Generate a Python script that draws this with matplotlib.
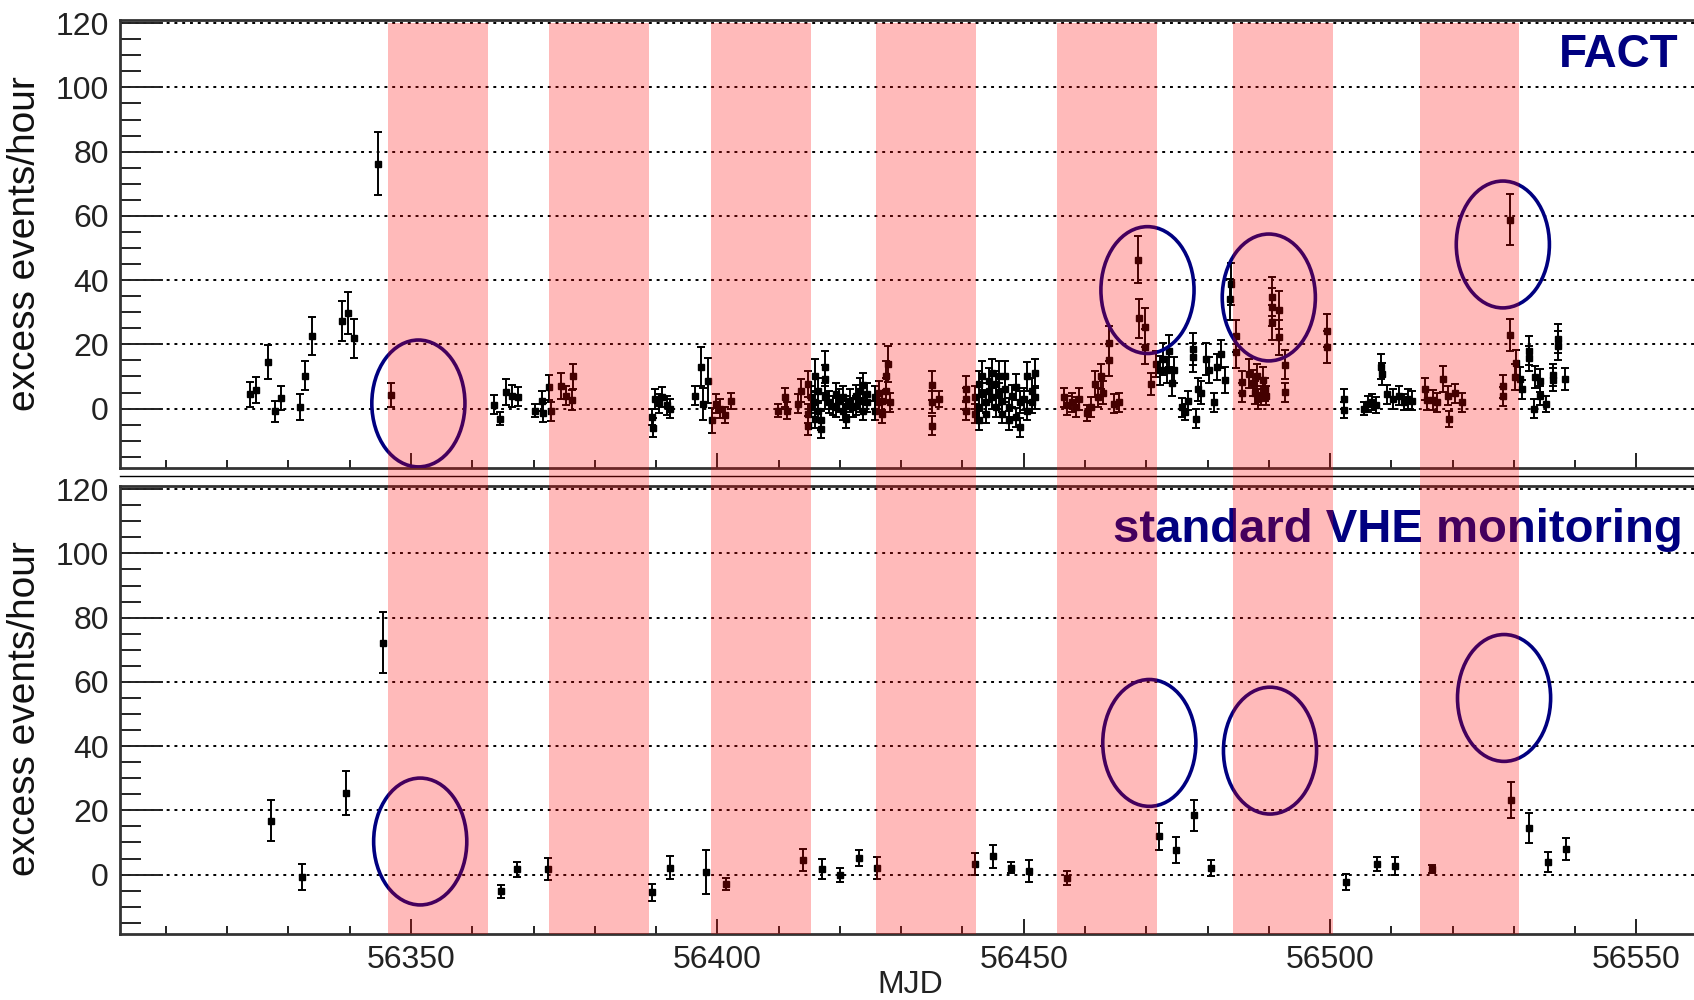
import matplotlib
matplotlib.use('Agg')
import matplotlib.pyplot as plt
import matplotlib.transforms as mtransforms
from matplotlib.patches import Ellipse, Rectangle
from matplotlib.lines import Line2D
from matplotlib.ticker import MultipleLocator, FormatStrFormatter

# FACT light curve (top panel)
fact_mjd = [
    56323.7, 56324.7, 56326.7, 56327.8, 56328.8, 56331.8, 56332.7, 56333.8, 56338.8, 56339.7, 56340.7, 56344.6, 56346.7,
    56363.5, 56364.6, 56365.5, 56366.5, 56367.5, 56370.3, 56371.3, 56371.5, 56372.6, 56372.8, 56374.4, 56375.3, 56376.5, 56376.2,
    56389.4, 56389.5, 56389.8, 56390.5, 56391.0, 56391.7, 56392.3, 56396.3, 56397.4, 56397.6, 56398.4, 56399.1, 56399.7, 56400.5, 56401.3, 56402.3,
    56409.9, 56411.1, 56411.3, 56413.1, 56413.7,
    56414.8, 56414.8, 56414.8, 56415.3, 56415.3, 56416.0, 56416.0, 56416.0, 56416.5, 56416.5, 56416.9, 56416.9,
    56417.6, 56417.6, 56417.6, 56418.3, 56418.8, 56419.4, 56419.4, 56419.9, 56420.5, 56420.5, 56421.0, 56421.0,
    56421.6, 56422.1, 56422.6, 56422.6, 56423.2, 56423.2, 56423.8, 56423.8, 56424.5, 56424.5,
    56425.7, 56425.7, 56426.4, 56426.4, 56426.9, 56426.9, 56427.5, 56427.5, 56427.8, 56428.1, 56435.0, 56435.0, 56435.0,
    56436.2, 56440.6, 56440.6, 56440.6,
    56442.1, 56442.1, 56442.7, 56442.7, 56442.7, 56443.2, 56443.2, 56443.8, 56443.8, 56444.3, 56444.3, 56444.8,
    56444.8, 56445.4, 56445.4, 56445.9, 56445.9, 56446.5, 56446.5, 56447.0, 56447.0, 56447.6, 56447.6, 56448.1,
    56448.8, 56448.8, 56449.4, 56449.4, 56450.1, 56450.6, 56450.6, 56451.3, 56451.3, 56451.8, 56451.8,
    56456.5, 56457.0, 56457.8, 56458.5, 56459.0, 56460.3, 56461.0, 56461.7, 56462.2, 56462.6, 56463.0, 56463.9, 56464.0, 56464.8, 56465.5,
    56468.7, 56468.8, 56469.8, 56469.8, 56470.7,
    56471.6, 56472.2, 56472.8, 56473.4, 56473.7, 56474.2, 56474.6, 56475.9, 56476.4, 56476.8, 56477.7, 56477.7, 56478.1, 56478.5,
    56479.0, 56479.7, 56480.3, 56481.0, 56481.5, 56482.2, 56482.8,
    56483.8, 56483.7, 56484.6, 56484.6, 56485.7, 56485.7, 56486.8, 56487.4, 56487.8, 56488.1, 56488.3, 56488.8,
    56489.0, 56489.3, 56489.6, 56490.6, 56490.6, 56490.6, 56491.6, 56491.6, 56492.6, 56492.6, 56499.5, 56499.5,
    56502.3, 56502.3, 56505.5, 56506.2, 56506.8, 56507.5, 56508.3, 56508.5, 56509.3, 56510.2, 56511.2, 56512.0, 56512.8, 56513.3,
    56515.5, 56515.8, 56516.8, 56517.4, 56518.4, 56519.3, 56519.4, 56520.4, 56521.5,
    56528.3, 56528.3, 56529.4, 56529.3, 56530.2, 56530.3, 56531.0, 56531.4, 56532.4, 56532.4, 56533.3, 56533.4,
    56534.3, 56534.3, 56535.3, 56536.4, 56536.4, 56537.2, 56537.2, 56538.3,
]
fact_rate = [
    4.4, 5.8, 14.4, -0.9, 3.2, 0.4, 10.3, 22.7, 27.4, 29.8, 21.9, 76.2, 4.3,
    1.2, -3.2, 5.1, 4.0, 3.7, -0.6, 2.4, -1.3, 6.6, -0.8, 7.0, 4.0, 10.0, 2.7,
    -2.7, -6.0, 3.0, 1.6, 3.6, 1.0, 0.0, 4.0, 13.1, 1.4, 8.7, -3.7, 1.5, 0.0, -2.0, 2.5,
    -0.6, 3.5, -0.6, 1.5, 5.6,
    7.7, -1.6, -5.3, 3.5, 0.4, 10.3, 2.0, -3.2, 5.6, -0.6, -3.7, -6.3,
    12.9, 9.2, 3.5, 2.0, 0.9, 4.6, 0.4, 2.5, 3.5, -0.6, 0.9, -3.2,
    2.5, 0.4, 4.0, 0.9, 5.6, 2.5, 7.2, -0.6, 4.6, 2.0,
    3.5, -0.6, 2.0, 5.0, -1.6, 2.5, 5.6, 10.3, 13.9, 2.0, 7.2, 2.0, -5.3,
    3.0, 6.1, 3.0, -0.6,
    3.5, -1.6, 7.7, 0.4, -3.7, 10.3, 4.6, 2.0, -1.6, 8.7, 5.6, 11.0,
    3.5, 7.7, 0.4, 10.3, 4.6, 2.5, -1.6, 10.3, 6.1, 0.4, -3.7, 4.0,
    6.7, -2.7, 2.0, -5.8, 3.0, 10.0, -0.6, 5.6, 2.0, 11.0, 3.5,
    3.5, 1.0, 2.0, 0.5, 3.0, -1.5, 0.5, 7.7, 3.5, 10.0, 5.0, 15.0, 20.3, 1.5, 2.0,
    46.4, 28.1, 25.3, 19.3, 7.7,
    13.9, 12.0, 15.5, 12.0, 18.0, 8.0, 12.0, 0.4, -1.0, 2.5, 18.6, 16.0, -3.2, 6.0,
    5.0, 15.5, 12.0, 2.0, 13.0, 17.0, 9.0,
    38.8, 34.0, 22.7, 17.5, 8.2, 5.0, 10.8, 8.0, 5.0, 10.0, 3.0, 4.0,
    9.0, 6.0, 4.0, 34.9, 31.6, 26.9, 30.7, 22.2, 13.6, 5.1, 24.3, 19.3,
    3.0, -0.5, -0.1, 1.5, 2.0, 1.0, 13.1, 10.8, 4.5, 3.0, 4.0, 2.0, 3.0, 2.5,
    6.1, 2.7, 2.7, 2.0, 9.2, 4.0, -3.2, 4.7, 2.0,
    6.9, 3.8, 58.8, 23.0, 9.8, 14.1, 9.3, 6.0, 18.0, 15.6, 0.0, 9.8,
    8.7, 4.0, 1.4, 10.5, 9.0, 19.6, 21.7, 9.2,
]
fact_err = [
    3.9, 4.0, 5.3, 3.4, 3.7, 4.0, 4.4, 5.9, 6.2, 6.5, 6.0, 9.8, 3.8,
    2.9, 2.0, 4.0, 3.5, 3.0, 2.0, 3.0, 3.0, 4.0, 3.0, 4.0, 3.0, 4.0, 3.0,
    2.5, 3.0, 3.0, 3.0, 3.0, 3.0, 3.0, 3.0, 6.0, 5.0, 7.0, 4.0, 3.0, 3.0, 2.5, 2.5,
    2.0, 3.0, 2.5, 3.0, 3.5,
    4.0, 3.0, 3.0, 3.5, 3.0, 5.0, 3.5, 3.0, 4.0, 3.0, 3.0, 3.0,
    5.0, 4.5, 3.5, 3.5, 3.0, 3.5, 3.0, 3.5, 3.5, 3.0, 3.0, 3.0,
    3.5, 3.0, 3.5, 3.0, 4.0, 3.5, 4.0, 3.0, 3.5, 3.0,
    3.5, 3.0, 3.0, 3.5, 3.0, 3.0, 4.0, 4.5, 5.5, 3.0, 4.5, 3.5, 3.0,
    2.5, 4.0, 3.5, 3.0,
    3.5, 3.0, 4.0, 3.5, 3.0, 4.5, 3.5, 3.5, 3.0, 4.0, 3.5, 4.5,
    3.5, 4.0, 3.0, 4.5, 3.5, 3.5, 3.0, 4.5, 4.0, 3.0, 3.0, 3.5,
    4.0, 3.0, 3.5, 3.0, 3.5, 4.5, 3.0, 4.0, 3.5, 4.5, 3.5,
    3.0, 3.0, 3.0, 3.0, 3.5, 2.5, 3.0, 4.0, 3.0, 4.0, 3.5, 5.0, 5.5, 3.0, 3.0,
    7.4, 6.0, 6.0, 5.5, 3.5,
    4.0, 4.5, 5.0, 4.0, 5.0, 4.0, 4.0, 3.0, 2.5, 3.0, 5.0, 4.5, 3.0, 3.5,
    3.5, 5.0, 4.0, 3.0, 4.0, 4.5, 4.0,
    6.5, 6.5, 5.0, 5.0, 3.5, 3.0, 4.5, 4.0, 3.5, 4.0, 3.0, 3.0,
    4.0, 3.5, 3.0, 6.0, 6.0, 5.5, 6.0, 5.5, 4.5, 3.0, 5.0, 5.0,
    3.0, 2.5, 2.0, 2.5, 2.5, 2.5, 4.0, 3.5, 3.0, 3.0, 3.0, 2.5, 3.0, 3.0,
    3.5, 3.0, 3.0, 3.0, 4.0, 3.0, 2.5, 3.0, 3.0,
    3.5, 3.0, 8.0, 5.0, 4.0, 4.0, 3.5, 3.0, 4.5, 4.0, 3.0, 3.5,
    3.5, 3.0, 2.5, 3.5, 3.5, 4.5, 4.5, 3.5,
]

# standard VHE monitoring (bottom panel)
vhe_mjd = [56327.2, 56332.2, 56339.4, 56345.4, 56364.7, 56367.3, 56372.3, 56389.4, 56392.3, 56398.2,
           56401.4, 56414.0, 56417.1, 56420.0, 56423.1, 56426.1, 56442.0, 56445.0, 56447.9, 56450.9,
           56457.0, 56472.0, 56474.9, 56477.8, 56480.6, 56502.6, 56507.6, 56510.6, 56516.7, 56529.6,
           56532.5, 56535.5, 56538.5]
vhe_rate = [16.8, -0.7, 25.4, 72.2, -5.2, 1.6, 1.8, -5.5, 2.1, 0.8,
            -2.9, 4.5, 1.8, -0.2, 5.2, 2.1, 3.3, 5.7, 2.1, 1.2,
            -1.0, 11.9, 7.7, 18.4, 2.1, -2.4, 3.3, 2.6, 1.8, 23.1,
            14.5, 3.9, 8.0]
vhe_err = [6.3, 4.1, 6.8, 9.5, 2.0, 2.4, 3.4, 2.6, 3.6, 6.9,
           1.9, 3.5, 3.1, 2.2, 2.6, 3.4, 3.5, 3.5, 1.7, 3.4,
           2.2, 4.1, 4.1, 4.7, 2.5, 2.5, 2.3, 2.8, 1.3, 5.6,
           4.6, 3.0, 3.5]

# moon periods (shaded)
moon_start = [56346.3, 56372.6, 56399.0, 56425.9, 56455.5, 56484.2, 56514.7]
moon_end = [56362.5, 56388.9, 56415.2, 56442.2, 56471.7, 56500.4, 56530.9]

# circled epochs
circ_mjd_top = [56351.2, 56470.2, 56490.0, 56528.2]
circ_rate_top = [1.6, 36.9, 34.6, 51.1]
circ_mjd_bot = [56351.5, 56470.5, 56490.2, 56528.4]
circ_rate_bot = [10.3, 41.0, 38.6, 55.0]

plt.rcParams['font.family'] = ['Liberation Sans', 'DejaVu Sans']
navy = '#000080'

fig = plt.figure(figsize=(16.94, 10), dpi=100)
left = 120 / 1694
ax_top = fig.add_axes([left, 1 - 468 / 1000, 1 - left, 0.448])
ax_bot = fig.add_axes([left, 1 - 934 / 1000, 1 - left, 0.448], sharex=ax_top)


def style(ax):
    ax.set_xlim(56302.5, 56559.4)
    ax.set_ylim(-18.5, 121)
    ax.yaxis.set_major_locator(MultipleLocator(20))
    ax.yaxis.set_minor_locator(MultipleLocator(5))
    ax.xaxis.set_major_locator(MultipleLocator(50))
    ax.xaxis.set_minor_locator(MultipleLocator(10))
    ax.xaxis.set_major_formatter(FormatStrFormatter('%d'))
    ax.tick_params(axis='y', which='major', direction='in', length=31, width=1.4,
                   labelsize=23, pad=8, color='#222', labelcolor='#222')
    ax.tick_params(axis='y', which='minor', direction='in', length=15, width=1.4, color='#222')
    ax.tick_params(axis='x', which='major', direction='in', length=11, width=1.4,
                   labelsize=23, pad=8, color='#222', labelcolor='#222')
    ax.tick_params(axis='x', which='minor', direction='in', length=6, width=1.4, color='#222')
    ax.spines['right'].set_visible(False)
    for s in ['left', 'top', 'bottom']:
        ax.spines[s].set_linewidth(2)
        ax.spines[s].set_color('#333')
    ax.grid(axis='y', which='major', color='black', linestyle=(0, (1.5, 2.5)), linewidth=1.4)


for ax in (ax_top, ax_bot):
    style(ax)
ax_top.tick_params(labelbottom=False)

ax_top.errorbar(fact_mjd, fact_rate, yerr=fact_err, fmt='s', ms=4, color='black',
                ecolor='black', elinewidth=1.4, capsize=3, capthick=1.4, zorder=3)
ax_bot.errorbar(vhe_mjd, vhe_rate, yerr=vhe_err, fmt='s', ms=4, color='black',
                ecolor='black', elinewidth=1.4, capsize=3, capthick=1.4, zorder=3)

for x, y in zip(circ_mjd_top, circ_rate_top):
    ax_top.add_patch(Ellipse((x, y), 15.2, 39.5, fill=False, edgecolor=navy, lw=2.6, zorder=4))
for x, y in zip(circ_mjd_bot, circ_rate_bot):
    ax_bot.add_patch(Ellipse((x, y), 15.2, 39.5, fill=False, edgecolor=navy, lw=2.6, zorder=4))

# bands run through both panels and over everything
trans = mtransforms.blended_transform_factory(ax_bot.transData, fig.transFigure)
y0 = 1 - 934 / 1000
y1 = 1 - 22.7 / 1000
for s, e in zip(moon_start, moon_end):
    fig.add_artist(Rectangle((s, y0), e - s, y1 - y0, transform=trans,
                             facecolor='red', alpha=0.27, lw=0, zorder=10))

fig.add_artist(Line2D([left, 1], [1 - 476.5 / 1000] * 2, color='black', lw=1,
                      transform=fig.transFigure))

fig.text(1678 / 1694, 1 - 67 / 1000, 'FACT', ha='right', va='baseline',
         fontsize=33, fontweight='bold', color=navy)
fig.text(1683 / 1694, 1 - 542 / 1000, 'standard VHE monitoring', ha='right', va='baseline',
         fontsize=34, fontweight='bold', color=navy)

fig.text(25 / 1694, 1 - 244 / 1000, 'excess events/hour', rotation=90,
         ha='center', va='center', fontsize=28, color='#111')
fig.text(25 / 1694, 1 - 709 / 1000, 'excess events/hour', rotation=90,
         ha='center', va='center', fontsize=28, color='#111')
fig.text(910 / 1694, 1 - 985 / 1000, 'MJD', ha='center', va='center', fontsize=23, color='#222')

fig.savefig('out.png', dpi=100)
